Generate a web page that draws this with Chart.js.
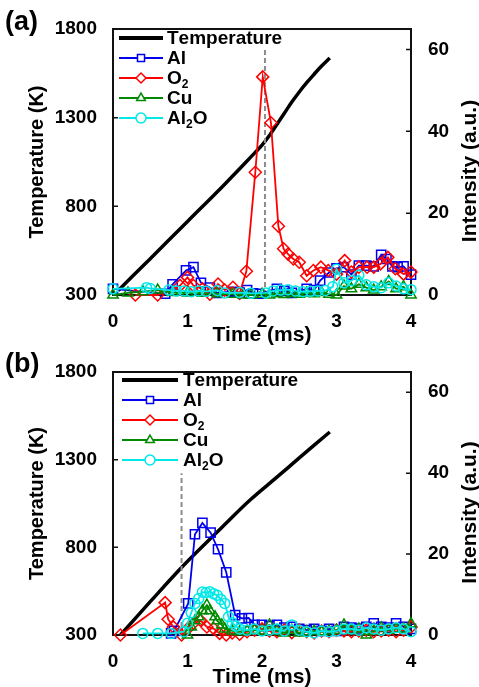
<!DOCTYPE html>
<html lang="en">
<head>
    <meta charset="UTF-8">
    <title>Temperature and species intensity</title>
    <script src="https://cdn.jsdelivr.net/npm/chart.js"></script>
    <style>
        html, body { margin: 0; padding: 0; background: #fff; overflow: hidden; }
        #wrap { position: relative; width: 479px; height: 687px; }
        #wrap canvas { position: absolute; left: 0; }
    </style>
</head>
<body>
<div id="wrap">
    <canvas id="chartA" width="479" height="348" style="top:0px"></canvas>
    <canvas id="chartB" width="479" height="350" style="top:340px"></canvas>
</div>
<script>
// tick labels
const timeTicks = [0, 1, 2, 3, 4];
const tempTicks = [300, 800, 1300, 1800];
const intensityTicks = [0, 20, 40, 60];
const seriesNames = ['Temperature', 'Al', 'O₂', 'Cu', 'Al₂O'];

// ---- panel (a) ----
const tempTimeA = [0.07, 0.5, 1.0, 1.5, 1.9, 2.0, 2.1, 2.2, 2.3, 2.4, 2.5, 2.6, 2.7, 2.8, 2.91];
const tempA = [325, 505, 715, 925, 1100, 1145, 1200, 1262, 1325, 1388, 1445, 1497, 1545, 1591, 1636];

const alTimeA = [0, 0.7, 0.8, 0.98, 1.08, 1.18, 1.3, 1.4, 1.6, 1.7, 1.8, 1.88, 1.96, 2.2, 2.3, 2.4, 2.6, 2.7, 2.78, 2.9, 3.0, 3.1, 3.2, 3.3, 3.4, 3.5, 3.6, 3.67, 3.75, 3.82, 3.9, 4.0];
const alA = [1.5, 0.3, 2.6, 6.0, 6.8, 3.0, 1.8, 0.5, 0.8, 0.6, 1.2, 0.4, 0.3, 1.5, 1.0, 0.5, 1.5, 1.2, 3.5, 5.5, 6.5, 6.8, 5.0, 7.2, 7.2, 7.0, 9.8, 8.8, 7.0, 6.8, 7.0, 5.0];

const o2TimeA = [0.3, 0.6, 0.9, 1.0, 1.08, 1.2, 1.3, 1.41, 1.5, 1.61, 1.7, 1.79, 1.91, 2.01, 2.12, 2.22, 2.29, 2.35, 2.42, 2.5, 2.6, 2.69, 2.79, 2.89, 3.0, 3.11, 3.2, 3.3, 3.41, 3.5, 3.59, 3.69, 3.79, 3.9, 4.0];
const o2A = [0, 0, 2.3, 4.3, 2.3, 1.5, 0.2, 2.7, 1.2, 1.9, 0.4, 5.8, 30, 53.3, 42.1, 16.8, 11.3, 10, 8.8, 8, 4.7, 6, 6.8, 6, 5.1, 8.4, 5.6, 6.8, 6.8, 6.8, 7.6, 9.2, 6.4, 5.1, 5.6];

const cuTimeA = [0, 0.2, 0.4, 0.6, 0.8, 1.0, 1.2, 1.4, 1.6, 1.75, 1.85, 2.0, 2.1, 2.2, 2.3, 2.4, 2.5, 2.6, 2.7, 2.8, 2.9, 3.0, 3.1, 3.2, 3.3, 3.4, 3.5, 3.6, 3.7, 3.8, 3.9, 4.0];
const cuA = [0, 0.5, 0.8, 1.2, 0.6, 0.5, 0.4, 0.3, 0.2, 0, 0, 0.2, 0, 0.3, 0.1, 0.4, 0.2, 0.5, 0.3, 0.6, 0.2, 0, 2.2, 1.5, 2.6, 1.8, 1.2, 2.0, 3.3, 1.5, 2.0, 0];

const al2oTimeA = [0, 0.45, 0.5, 0.75, 0.85, 0.95, 1.05, 1.15, 1.25, 1.4, 1.5, 1.7, 1.85, 2.05, 2.15, 2.25, 2.35, 2.45, 2.55, 2.65, 2.75, 2.85, 2.95, 3.0, 3.1, 3.2, 3.3, 3.4, 3.5, 3.6, 3.7, 3.8, 3.9, 4.0];
const al2oA = [1.5, 1.8, 1.6, 1.2, 1.0, 1.0, 0.8, 1.0, 0.9, 1.1, 0.5, 0.6, 0.4, 0.5, 1.0, 1.2, 1.3, 1.0, 0.8, 0.9, 1.0, 1.1, 2.0, 6.3, 3.0, 3.5, 4.8, 2.5, 2.0, 1.8, 3.0, 2.2, 1.5, 1.3];

const markTimeA = [2.04, 2.04];
const markA = [0, 60];

// ---- panel (b) ----
const tempTimeB = [0.1, 0.5, 0.92, 1.2, 1.5, 1.84, 2.2, 2.5, 2.91];
const tempB = [300, 490, 685, 805, 930, 1070, 1200, 1310, 1458];

const alTimeB = [0.78, 0.82, 1.01, 1.1, 1.2, 1.31, 1.41, 1.52, 1.64, 1.73, 1.82, 1.9, 2.0, 2.1, 2.2, 2.3, 2.4, 2.5, 2.6, 2.7, 2.8, 2.9, 3.0, 3.1, 3.2, 3.3, 3.4, 3.5, 3.6, 3.7, 3.8, 3.9, 4.0];
const alB = [0.4, 1.0, 7.8, 24.9, 27.7, 25.3, 21.2, 15.5, 4.9, 4.1, 4.2, 2.5, 2.5, 2.2, 2.5, 1.8, 2.0, 1.5, 1.2, 1.5, 1.0, 1.5, 1.0, 2.0, 1.8, 1.6, 2.0, 2.9, 2.0, 1.8, 2.9, 2.0, 1.5];

const o2TimeB = [0.1, 0.7, 0.74, 0.81, 0.92, 1.0, 1.08, 1.17, 1.26, 1.35, 1.43, 1.52, 1.6, 1.7, 1.8, 1.9, 2.0, 2.1, 2.2, 2.3, 2.4, 2.5, 2.6, 2.7, 2.8, 2.9, 3.0, 3.1, 3.2, 3.3, 3.4, 3.5, 3.6, 3.7, 3.8, 3.9, 4.0];
const o2B = [0, 8.0, 3.9, 2.0, 0, 1.5, 2.9, 3.7, 2.0, 1.6, 0.4, 0, 0.5, 0.2, 0.8, 1.2, 1.5, 1.0, 0.8, 1.2, 0.6, 1.2, 0.8, 0.5, 1.0, 0.8, 1.2, 1.0, 0.8, 1.0, 1.2, 0.8, 1.0, 1.2, 0.8, 1.2, 2.0];

const cuTimeB = [1.0, 1.05, 1.1, 1.15, 1.2, 1.26, 1.3, 1.37, 1.4, 1.46, 1.5, 1.6, 1.7, 1.8, 1.9, 2.0, 2.1, 2.2, 2.3, 2.4, 2.5, 2.6, 2.7, 2.8, 2.9, 3.0, 3.1, 3.2, 3.3, 3.4, 3.5, 3.6, 3.7, 3.8, 3.9, 4.0];
const cuB = [0, 2.0, 3.5, 4.5, 6.0, 7.4, 6.0, 4.5, 3.5, 2.5, 1.5, 1.0, 0.8, 1.0, 1.2, 1.0, 2.5, 1.0, 0.5, 1.2, 0.5, 0.8, 1.0, 0.8, 1.0, 1.2, 2.5, 1.2, 1.5, 0, 1.0, 1.8, 1.2, 1.5, 1.5, 2.8];

const al2oTimeB = [0.4, 0.6, 0.78, 0.95, 1.0, 1.05, 1.1, 1.15, 1.2, 1.25, 1.3, 1.35, 1.4, 1.45, 1.5, 1.55, 1.6, 1.65, 1.7, 1.8, 1.9, 2.0, 2.1, 2.2, 2.3, 2.4, 2.5, 2.6, 2.7, 2.8, 2.9, 3.0, 3.1, 3.2, 3.3, 3.4, 3.5, 3.6, 3.7, 3.8, 3.9, 4.0];
const al2oB = [0.4, 0.4, 0.4, 0.8, 2.9, 5.5, 7.8, 9.0, 10.6, 10.5, 10.7, 10.2, 9.8, 8.8, 7.8, 4.5, 3.0, 2.2, 1.5, 1.2, 1.5, 1.0, 1.2, 1.5, 1.0, 2.5, 1.2, 0.8, 0.5, 1.0, 0.8, 1.0, 1.5, 1.5, 1.2, 1.8, 1.5, 1.2, 1.5, 1.8, 1.5, 0.8];

const markTimeB = [0.92, 0.92];
const markB = [0, 40];

const FONT = "'Liberation Sans', Arial, sans-serif";
const colors = { temp: '#000000', al: '#0000ee', o2: '#ff0000', cu: '#008a00', al2o: '#00e8e8' };
const styles = [null, 'rect', 'rectRot', 'triangle', 'circle'];
const radii = [0, 6.5, 6, 6, 5];
const colorList = [colors.temp, colors.al, colors.o2, colors.cu, colors.al2o];

function pts(times, vals) {
    return times.map((t, i) => ({ x: t, y: vals[i] }));
}

function series(idx, times, vals) {
    return {
        label: seriesNames[idx],
        data: pts(times, vals),
        yAxisID: 'yI',
        borderColor: colorList[idx],
        backgroundColor: 'rgba(0,0,0,0)',
        borderWidth: 1.8,
        pointStyle: styles[idx],
        pointRadius: radii[idx],
        pointBorderWidth: 1.5,
        pointBorderColor: colorList[idx],
        pointBackgroundColor: 'rgba(0,0,0,0)',
        tension: 0,
        fill: false,
        clip: false
    };
}

// draws text, turning the subscript two into a small lowered digit
function richText(ctx, text, x, y, size) {
    let cx = x;
    for (const ch of text) {
        if (ch === '₂') {
            ctx.font = 'bold ' + Math.round(size * 0.62) + 'px ' + FONT;
            ctx.fillText('2', cx, y + size * 0.28);
            cx += ctx.measureText('2').width;
        } else {
            ctx.font = 'bold ' + size + 'px ' + FONT;
            ctx.fillText(ch, cx, y);
            cx += ctx.measureText(ch).width;
        }
    }
}

function marker(ctx, style, r, x, y, color) {
    ctx.save();
    ctx.strokeStyle = color;
    ctx.fillStyle = '#fff';
    ctx.lineWidth = 1.5;
    if (Chart.helpers && Chart.helpers.drawPoint) {
        Chart.helpers.drawPoint(ctx, { pointStyle: style, radius: r, rotation: 0, borderWidth: 1.5 }, x, y);
    }
    ctx.restore();
}

function framePlugin(cfg) {
    return {
        id: 'frame',
        beforeDatasetsDraw(chart) {
            const { ctx, chartArea: a, scales } = chart;
            ctx.save();
            ctx.strokeStyle = '#111';
            ctx.lineWidth = 2;
            ctx.strokeRect(a.left, a.top, a.right - a.left, a.bottom - a.top);
            ctx.lineWidth = 1.5;
            ctx.beginPath();
            scales.yT.ticks.forEach(t => {
                const y = scales.yT.getPixelForValue(t.value);
                ctx.moveTo(a.left, y); ctx.lineTo(a.left + 5, y);
            });
            scales.yI.ticks.forEach(t => {
                const y = scales.yI.getPixelForValue(t.value);
                ctx.moveTo(a.right, y); ctx.lineTo(a.right - 5, y);
            });
            ctx.stroke();
            ctx.restore();
        },
        afterDraw(chart) {
            const { ctx, chartArea: a } = chart;
            ctx.save();
            ctx.fillStyle = '#000';
            // panel letter
            ctx.textBaseline = 'middle';
            ctx.textAlign = 'left';
            ctx.font = 'bold 27px ' + FONT;
            ctx.fillText(cfg.letter, 5, cfg.letterY);
            // right axis title, reading upwards
            ctx.save();
            ctx.translate(470, (a.top + a.bottom) / 2 + 9);
            ctx.rotate(-Math.PI / 2);
            ctx.textAlign = 'center';
            ctx.font = 'bold 21px ' + FONT;
            ctx.fillText('Intensity (a.u.)', 0, 0);
            ctx.restore();
            // legend
            const L = cfg.legend;
            seriesNames.forEach((name, i) => {
                const y = a.top + L.y0 + i * L.dy;
                ctx.strokeStyle = colorList[i];
                ctx.lineWidth = i === 0 ? 4 : 2;
                ctx.beginPath();
                ctx.moveTo(L.x0, y); ctx.lineTo(L.x1, y);
                ctx.stroke();
                if (styles[i]) marker(ctx, styles[i], 5, (L.x0 + L.x1) / 2, y, colorList[i]);
                ctx.fillStyle = '#000';
                ctx.textAlign = 'left';
                richText(ctx, name, L.tx, y + 1, 19);
            });
            ctx.restore();
        }
    };
}

function makeChart(id, cfg) {
    const canvas = document.getElementById(id);
    const H = canvas.height;
    const tickFont = { family: FONT, size: 19, weight: 'bold' };
    const plain = v => String(v);
    new Chart(canvas, {
        type: 'line',
        data: {
            datasets: [
                series(4, cfg.al2o[0], cfg.al2o[1]),
                series(3, cfg.cu[0], cfg.cu[1]),
                series(2, cfg.o2[0], cfg.o2[1]),
                series(1, cfg.al[0], cfg.al[1]),
                {
                    label: 'onset',
                    data: pts(cfg.mark[0], cfg.mark[1]),
                    yAxisID: 'yI',
                    borderColor: '#8c8c8c',
                    borderWidth: 2,
                    borderDash: [5, 3],
                    pointRadius: 0,
                    fill: false
                },
                {
                    label: seriesNames[0],
                    data: pts(cfg.temp[0], cfg.temp[1]),
                    yAxisID: 'yT',
                    borderColor: colors.temp,
                    borderWidth: 3.5,
                    pointRadius: 0,
                    tension: 0.4,
                    fill: false
                }
            ]
        },
        options: {
            responsive: false,
            animation: false,
            events: [],
            layout: { padding: { left: 0, right: 0, top: cfg.top, bottom: 0 } },
            plugins: { legend: { display: false }, tooltip: { enabled: false } },
            scales: {
                x: {
                    type: 'linear', min: 0, max: 4,
                    afterBuildTicks: s => { s.ticks = timeTicks.map(v => ({ value: v })); },
                    afterFit: s => { s.height = H - 295; },
                    grid: { display: false, drawTicks: false },
                    border: { display: false },
                    ticks: { color: '#000', font: tickFont, padding: 15, maxRotation: 0, autoSkip: false, callback: plain },
                    title: { display: true, text: 'Time (ms)', color: '#000', padding: { top: 0, bottom: 0 },
                             font: { family: FONT, size: 21, weight: 'bold' } }
                },
                yT: {
                    position: 'left', min: 300, max: 1800,
                    afterBuildTicks: s => { s.ticks = tempTicks.map(v => ({ value: v })); },
                    afterFit: s => { s.width = 113; },
                    grid: { display: false, drawTicks: false },
                    border: { display: false },
                    ticks: { color: '#000', font: tickFont, padding: 16, callback: plain },
                    title: { display: true, text: 'Temperature (K)', color: '#000', padding: { top: 25, bottom: 0 },
                             font: { family: FONT, size: 20, weight: 'bold' } }
                },
                yI: {
                    position: 'right', min: 0, max: 65,
                    afterBuildTicks: s => { s.ticks = intensityTicks.map(v => ({ value: v })); },
                    afterFit: s => { s.width = 479 - 411; },
                    grid: { display: false, drawTicks: false },
                    border: { display: false },
                    ticks: { color: '#000', font: tickFont, padding: 17, callback: plain }
                }
            }
        },
        plugins: [framePlugin(cfg)]
    });
}

makeChart('chartA', {
    top: 29, letter: '(a)', letterY: 23,
    legend: { x0: 119, x1: 163, tx: 167, y0: 9, dy: 20 },
    temp: [tempTimeA, tempA], al: [alTimeA, alA], o2: [o2TimeA, o2A],
    cu: [cuTimeA, cuA], al2o: [al2oTimeA, al2oA], mark: [markTimeA, markA]
});

makeChart('chartB', {
    top: 32, letter: '(b)', letterY: 25,
    legend: { x0: 122, x1: 178, tx: 183, y0: 8, dy: 20 },
    temp: [tempTimeB, tempB], al: [alTimeB, alB], o2: [o2TimeB, o2B],
    cu: [cuTimeB, cuB], al2o: [al2oTimeB, al2oB], mark: [markTimeB, markB]
});
</script>
</body>
</html>
